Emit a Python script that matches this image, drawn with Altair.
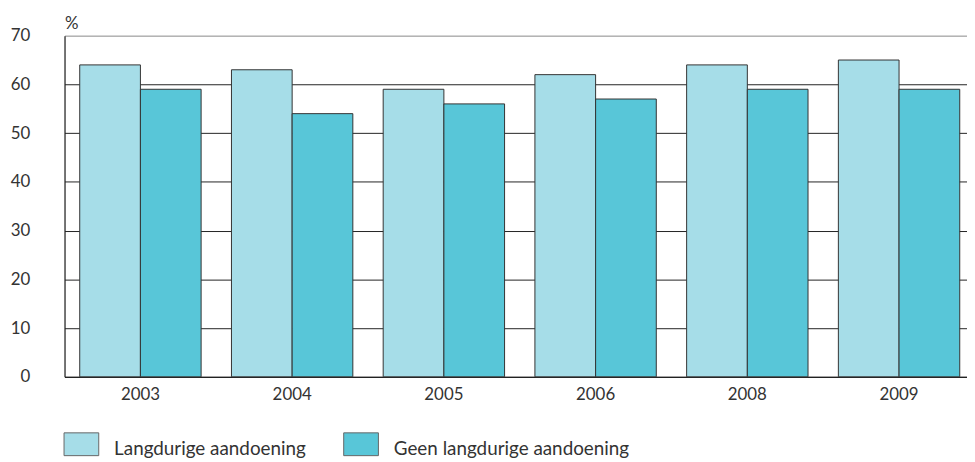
import altair as alt
import pandas as pd

years = ["2003", "2004", "2005", "2006", "2008", "2009"]
series = ["Langdurige aandoening", "Geen langdurige aandoening"]
langdurig = [64, 63, 59, 62, 64, 65]
geen = [59, 54, 56, 57, 59, 59]
y_ticks = [0, 10, 20, 30, 40, 50, 60, 70]
colors = ["#A6DDE8", "#58C6D8"]

rows = []
for i, yr in enumerate(years):
    rows.append({"jaar": yr, "groep": series[0], "waarde": langdurig[i]})
    rows.append({"jaar": yr, "groep": series[1], "waarde": geen[i]})
df = pd.DataFrame(rows)

FONT = "Lato"
TXT = "#333333"

sym_path = "M-1,-0.943L1,-0.943L1,0.371L-1,0.371Z"

chart = (
    alt.Chart(df)
    .mark_bar(stroke="#333333", strokeWidth=1)
    .encode(
        x=alt.X(
            "jaar:N",
            sort=years,
            scale=alt.Scale(paddingInner=0.2, paddingOuter=0.074, align=0.677),
            axis=alt.Axis(
                title=None,
                labelAngle=0,
                ticks=False,
                domainColor="#222222",
                domainWidth=1.2,
                labelPadding=18,
                labelFontSize=17,
                labelFont=FONT,
                labelColor=TXT,
                labelBaseline="middle",
                grid=False,
            ),
        ),
        xOffset=alt.XOffset("groep:N", sort=series),
        y=alt.Y(
            "waarde:Q",
            scale=alt.Scale(domain=[0, 70], nice=False),
            axis=alt.Axis(
                values=y_ticks,
                title="%",
                titleAngle=0,
                titleAlign="left",
                titleBaseline="alphabetic",
                titleX=0,
                titleY=-7,
                titleFont=FONT,
                titleFontSize=17,
                titleFontWeight="normal",
                titleColor=TXT,
                ticks=False,
                labelPadding=35,
                labelFontSize=17,
                labelFont=FONT,
                labelColor=TXT,
                domainColor="#222222",
                domainWidth=1.2,
                grid=True,
                gridColor=alt.condition(
                    alt.datum.value == 70, alt.value("#999999"), alt.value("#222222")
                ),
                gridWidth=1,
            ),
        ),
        color=alt.Color(
            "groep:N",
            sort=series,
            scale=alt.Scale(domain=series, range=colors),
            legend=alt.Legend(
                orient="none",
                legendX=-1,
                legendY=399,
                direction="horizontal",
                title=None,
                symbolType=sym_path,
                symbolSize=1225,
                symbolStrokeColor="#666666",
                symbolStrokeWidth=1,
                symbolOpacity=1,
                labelOffset=15,
                columnPadding=35,
                labelFontSize=19,
                labelFont=FONT,
                labelColor=TXT,
                labelLimit=400,
            ),
        ),
    )
    .properties(
        width=910,
        height=344,
        autosize=alt.AutoSizeParams(type="none"),
        padding={"left": 57, "top": 26, "right": 0, "bottom": 84},
    )
    .configure_view(stroke=None)
    .configure(background="white")
)

chart.save("out.html", embed_options={"renderer": "svg", "actions": False})
